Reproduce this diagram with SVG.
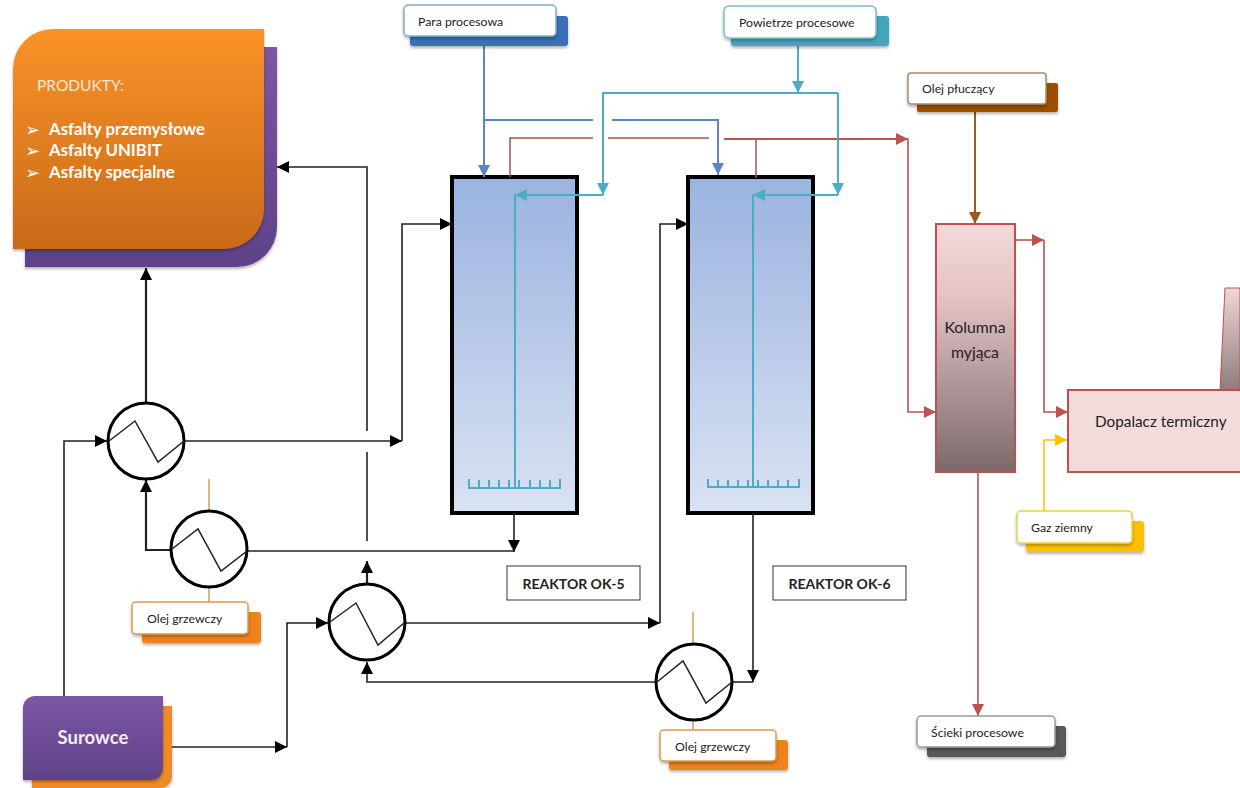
<svg xmlns="http://www.w3.org/2000/svg" width="1240" height="788" viewBox="0 0 1240 788">
<defs>
<linearGradient id="gOrange" x1="0" y1="0" x2="0" y2="1"><stop offset="0" stop-color="#fb9229"/><stop offset="1" stop-color="#c96a18"/></linearGradient>
<linearGradient id="gPurple" x1="0" y1="0" x2="0" y2="1"><stop offset="0" stop-color="#7c56a4"/><stop offset="1" stop-color="#5f4287"/></linearGradient>
<linearGradient id="gReactor" x1="0" y1="0" x2="0" y2="1"><stop offset="0" stop-color="#9ab3e0"/><stop offset="1" stop-color="#d9e2f2"/></linearGradient>
<linearGradient id="gCol" x1="0" y1="0" x2="0" y2="1"><stop offset="0" stop-color="#f3d9da"/><stop offset="0.3" stop-color="#e3c2c4"/><stop offset="1" stop-color="#7b6a6b"/></linearGradient>
<linearGradient id="gChim" x1="0" y1="0" x2="0" y2="1"><stop offset="0" stop-color="#f0d6d7"/><stop offset="1" stop-color="#8d7d7e"/></linearGradient>
<filter id="sh" x="-10%" y="-20%" width="120%" height="150%"><feDropShadow dx="0" dy="2" stdDeviation="1.5" flood-color="#000" flood-opacity="0.3"/></filter>
<marker id="aK" markerUnits="userSpaceOnUse" markerWidth="13" markerHeight="12" refX="12" refY="6" orient="auto"><path d="M0,0L12,6L0,12z" fill="#000"/></marker>
<marker id="aB" markerUnits="userSpaceOnUse" markerWidth="13" markerHeight="12" refX="12" refY="6" orient="auto"><path d="M0,0L12,6L0,12z" fill="#5b87c8"/></marker>
<marker id="aT" markerUnits="userSpaceOnUse" markerWidth="13" markerHeight="12" refX="12" refY="6" orient="auto"><path d="M0,0L12,6L0,12z" fill="#4bacc6"/></marker>
<marker id="aR" markerUnits="userSpaceOnUse" markerWidth="13" markerHeight="12" refX="12" refY="6" orient="auto"><path d="M0,0L12,6L0,12z" fill="#c0504d"/></marker>
<marker id="aN" markerUnits="userSpaceOnUse" markerWidth="13" markerHeight="12" refX="12" refY="6" orient="auto"><path d="M0,0L12,6L0,12z" fill="#9c5a1c"/></marker>
<marker id="aY" markerUnits="userSpaceOnUse" markerWidth="13" markerHeight="12" refX="12" refY="6" orient="auto"><path d="M0,0L12,6L0,12z" fill="#ffc000"/></marker>
</defs>
<style>
text{font-family:Lato,"Open Sans","Liberation Sans",sans-serif}
.lbl{font-size:12.300px;fill:#222}
.box{fill:#fff;stroke-width:1.5;filter:url(#sh)}
.back{filter:url(#sh)}
.hx{fill:#fff;stroke:#000;stroke-width:3}
.zz{fill:none;stroke:#222;stroke-width:1.5}
.k{fill:none;stroke:#222;stroke-width:1.6}
.k2{fill:none;stroke:#222;stroke-width:2.200}
.b{fill:none;stroke:#5b87c8;stroke-width:2}
.t{fill:none;stroke:#4bacc6;stroke-width:2}
.r{fill:none;stroke:#c0504d;stroke-width:1.6}
.r3{fill:none;stroke:#c0504d;stroke-width:2.200}
.r2{fill:none;stroke:#a9504e;stroke-width:1.500}
.o{fill:none;stroke:#c98a2c;stroke-width:1.200}
.prod{font-size:16.800px;font-weight:700;fill:#fff}
.bul{font-size:18px;fill:#fff;font-family:"DejaVu Sans",sans-serif}
.rk{font-size:14px;font-weight:700;fill:#222}
</style>
<rect width="1240" height="788" fill="#fff"/>

<g id="reaktor-ok5">
<rect x="452" y="177" width="125" height="336" fill="url(#gReactor)" stroke="#000" stroke-width="4"/>
<path class="t" d="M469,479V488H560V479M479,488V480M489,488V480M499,488V480M509,488V480M519,488V480M530,488V480M540,488V480M550,488V480"/>
</g>
<g id="reaktor-ok6">
<rect x="688" y="177" width="125" height="336" fill="url(#gReactor)" stroke="#000" stroke-width="4"/>
<path class="t" d="M708,479V487H799V479M718,487V480M728,487V480M738,487V480M748,487V480M758,487V480M768,487V480M778,487V480M788,487V480"/>
</g>

<g id="connectors">
<path class="b" d="M484,36V177" marker-end="url(#aB)"/>
<path class="b" d="M484,120H593"/>
<path class="b" d="M612,120H718V175" marker-end="url(#aB)"/>
<path class="r2" d="M510,177V138H593"/>
<path class="r2" d="M608,138H709"/>
<path class="r3" d="M724,139H908" marker-end="url(#aR)"/>
<path class="r2" d="M756,139V178"/>
<path class="r" d="M908,139V412H936" marker-end="url(#aR)"/>
<path class="t" d="M798,46V93" marker-end="url(#aT)"/>
<path class="t" d="M838,93H603V195" marker-end="url(#aT)"/>
<path class="t" d="M838,93V195" marker-end="url(#aT)"/>
<path class="t" d="M603,195H515" marker-end="url(#aT)"/>
<path class="t" d="M838,195H753" marker-end="url(#aT)"/>
<path class="t" d="M515,195V487"/>
<path class="t" d="M753,195V487"/>
<path class="k" d="M64,696V441H107" marker-end="url(#aK)"/>
<path class="k" d="M172,747H287" marker-end="url(#aK)"/>
<path class="k" d="M287,747V623H328" marker-end="url(#aK)"/>
<path class="k2" d="M146,403V268" marker-end="url(#aK)"/>
<path class="k" d="M185,441H402" marker-end="url(#aK)"/>
<path class="k" d="M402,441V224H452" marker-end="url(#aK)"/>
<path class="k" d="M367,431V167H277" marker-end="url(#aK)"/>
<path class="k" d="M367,452V541"/>
<path class="k" d="M248,551H514"/>
<path class="k" d="M514,513V552" marker-end="url(#aK)"/>
<path class="k2" d="M171,550H146V480" marker-end="url(#aK)"/>
<path class="k2" d="M367,584V561" marker-end="url(#aK)"/>
<path class="k" d="M405,623H660" marker-end="url(#aK)"/>
<path class="k" d="M660,623V224H688" marker-end="url(#aK)"/>
<path class="k" d="M753,513V682" marker-end="url(#aK)"/>
<path class="k" d="M733,682H753"/>
<path class="k" d="M656,682H367V662" marker-end="url(#aK)"/>
<path class="o" d="M209,479V510M209,587V602M693,612V643M693,720V730"/>
<path class="r" d="M1015,240H1044" marker-end="url(#aR)"/>
<path class="r" d="M1044,240V412H1068" marker-end="url(#aR)"/>
<path class="r" d="M978,472V716" marker-end="url(#aR)"/>
<path d="M975,104V224" fill="none" stroke="#9c5a1c" stroke-width="2" marker-end="url(#aN)"/>
<path d="M1044,511V440H1067" fill="none" stroke="#ffc000" stroke-width="1.5" marker-end="url(#aY)"/>
</g>

<g id="produkty">
<path d="M25,47H277V227a40,40 0 0 1 -40,40H25z" fill="url(#gPurple)" filter="url(#sh)"/>
<path d="M53,29H264V209a40,40 0 0 1 -40,40H13V69a40,40 0 0 1 40,-40z" fill="url(#gOrange)" filter="url(#sh)"/>
<text x="37" y="91" font-size="15.5" fill="#f8e8d8">PRODUKTY:</text>
<text class="bul" x="25" y="136">➢</text><text class="prod" x="49" y="135">Asfalty przemysłowe</text>
<text class="bul" x="25" y="157">➢</text><text class="prod" x="49" y="156">Asfalty UNIBIT</text>
<text class="bul" x="25" y="179">➢</text><text class="prod" x="49" y="178">Asfalty specjalne</text>
</g>

<g id="para-procesowa">
<rect class="back" x="410" y="16" width="158" height="30" rx="3" fill="#3a6fb8"/>
<rect class="box" x="404" y="5" width="152" height="31" rx="4" stroke="#7fb0cc"/>
<text class="lbl" x="418" y="26">Para procesowa</text>
</g>
<g id="powietrze-procesowe">
<rect class="back" x="731" y="16" width="158" height="30" rx="3" fill="#45a5bd"/>
<rect class="box" x="724" y="6" width="152" height="32" rx="5" stroke="#7cc0d0"/>
<text class="lbl" x="739" y="27">Powietrze procesowe</text>
</g>
<g id="olej-plucacy">
<rect class="back" x="917" y="83" width="141" height="29" rx="2" fill="#9c5000"/>
<rect class="box" x="908" y="73" width="138" height="31" rx="3" stroke="#a98c73"/>
<text class="lbl" x="922" y="93">Olej płuczący</text>
</g>

<g id="label-ok5"><rect x="507" y="566" width="133" height="34" fill="#fff" stroke="#333" stroke-width="1"/><text class="rk" x="573.500" y="589" text-anchor="middle">REAKTOR OK-5</text></g>
<g id="label-ok6"><rect x="773" y="566" width="133" height="34" fill="#fff" stroke="#333" stroke-width="1"/><text class="rk" x="839.500" y="589" text-anchor="middle">REAKTOR OK-6</text></g>

<g id="wymiennik-1"><circle class="hx" cx="146" cy="441" r="38"/><path class="zz" d="M109,441L135,421L158,462L184,441"/></g>
<g id="wymiennik-2"><circle class="hx" cx="209" cy="549" r="38"/><path class="zz" d="M172,549L198,529L221,571L247,551"/></g>
<g id="wymiennik-3"><circle class="hx" cx="367" cy="622" r="38"/><path class="zz" d="M330,622L356,603L378,645L404,623"/></g>
<g id="wymiennik-4"><circle class="hx" cx="694" cy="682" r="38"/><path class="zz" d="M657,682L683,661L706,703L732,682"/></g>

<g id="olej-grzewczy-1">
<rect class="back" x="142" y="612" width="119" height="31" rx="3" fill="#f0821e"/>
<rect class="box" x="132" y="602" width="116" height="32" rx="4" stroke="#d99a50"/>
<text class="lbl" x="147" y="623">Olej grzewczy</text>
</g>
<g id="olej-grzewczy-2">
<rect class="back" x="669" y="740" width="119" height="30" rx="3" fill="#f0821e"/>
<rect class="box" x="660" y="730" width="116" height="31" rx="4" stroke="#d99a50"/>
<text class="lbl" x="675" y="751">Olej grzewczy</text>
</g>
<g id="surowce">
<path d="M32,706H172V776a12,12 0 0 1 -12,12H32z" fill="#ef8a25" filter="url(#sh)"/>
<path d="M35,696H163V768a12,12 0 0 1 -12,12H23V708a12,12 0 0 1 12,-12z" fill="url(#gPurple)" filter="url(#sh)"/>
<text x="93" y="744" font-size="18.500" font-weight="700" fill="#f4eef8" text-anchor="middle">Surowce</text>
</g>

<g id="kolumna-myjaca">
<rect x="936" y="224" width="79" height="248" fill="url(#gCol)" stroke="#c0504d" stroke-width="2"/>
<text x="975" y="333" font-size="15.800" fill="#222" text-anchor="middle">Kolumna</text>
<text x="975" y="358" font-size="15.800" fill="#222" text-anchor="middle">myjąca</text>
</g>
<g id="komin"><path d="M1220,390L1225,288H1240V390z" fill="url(#gChim)" stroke="#c0504d" stroke-width="1"/></g>
<g id="dopalacz-termiczny">
<rect x="1068" y="390" width="174" height="82" fill="#f2dcdb" stroke="#c0504d" stroke-width="2"/>
<text x="1095" y="427" font-size="15.300" fill="#222">Dopalacz termiczny</text>
</g>
<g id="gaz-ziemny">
<rect class="back" x="1026" y="521" width="118" height="31" rx="3" fill="#ffc000"/>
<rect class="box" x="1017" y="511" width="115" height="32" rx="4" stroke="#e6d24a"/>
<text class="lbl" x="1031" y="532">Gaz ziemny</text>
</g>
<g id="scieki-procesowe">
<rect class="back" x="927" y="726" width="139" height="31" rx="3" fill="#595959"/>
<rect class="box" x="917" y="716" width="138" height="31" rx="4" stroke="#999"/>
<text class="lbl" x="931" y="737">Ścieki procesowe</text>
</g>
</svg>
